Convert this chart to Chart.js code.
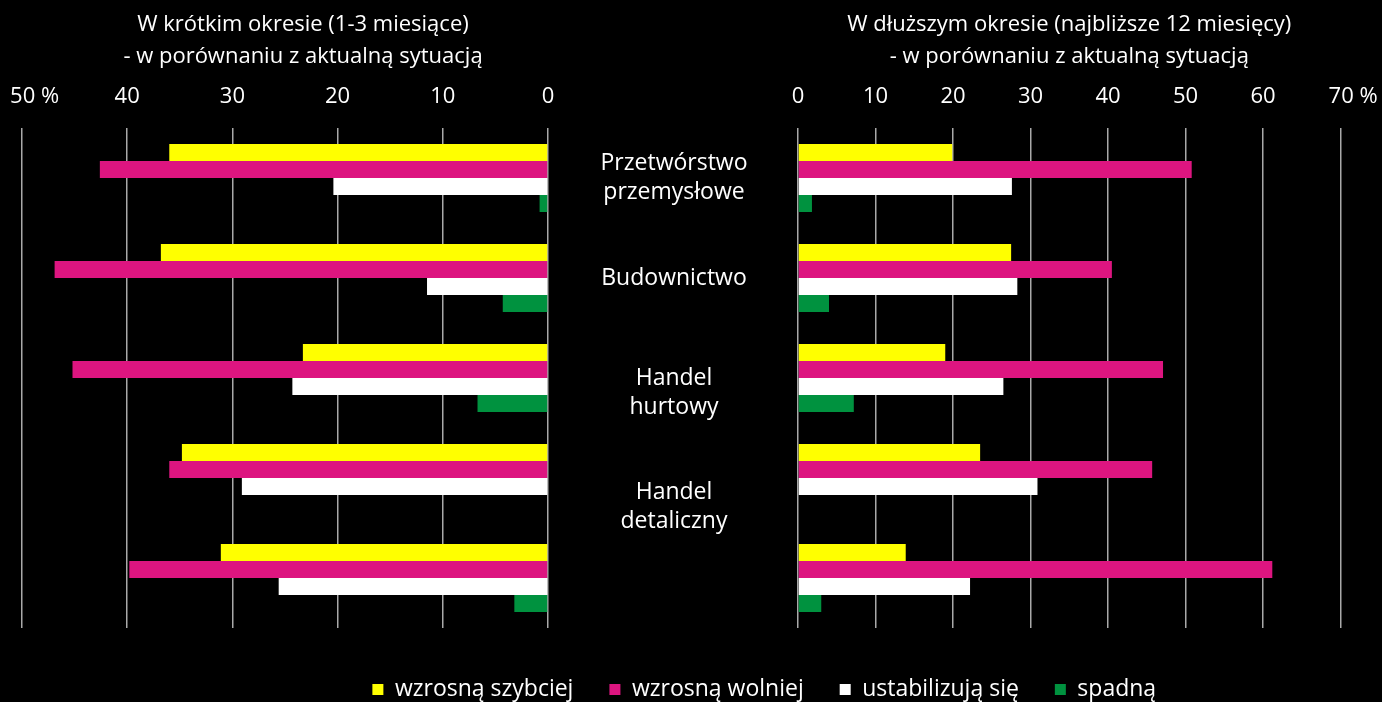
<!DOCTYPE html>
<html>
<head>
<meta charset="utf-8">
<script src="https://cdn.jsdelivr.net/npm/chart.js@4/dist/chart.umd.min.js"></script>
<style>
  html, body { margin: 0; padding: 0; background: #000; overflow: hidden; width: 1382px; height: 702px; }
  .pole { position: absolute; top: 0; }
</style>
</head>
<body>
<div class="pole" style="left:0;width:584px;height:702px"><canvas id="krotki" width="584" height="702"></canvas></div>
<div class="pole" style="left:188px;width:1194px;height:711px"><canvas id="dluzszy" width="1194" height="711"></canvas></div>
<script>
// Branże (ostatnia grupa bez podpisu, jak w oryginale)
const branze = [["Przetwórstwo", "przemysłowe"], "Budownictwo", ["Handel", "hurtowy"], ["Handel", "detaliczny"], ""];
const serie = ["wzrosną szybciej", "wzrosną wolniej", "ustabilizują się", "spadną"];
const kolory = ["#ffff00", "#dd1580", "#ffffff", "#00923f"];

// W krótkim okresie (1-3 miesiące), %
const krotkiSzybciej = [36.0, 36.8, 23.3, 34.8, 31.1];
const krotkiWolniej = [42.6, 46.9, 45.2, 36.0, 39.8];
const krotkiStabilnie = [20.4, 11.5, 24.3, 29.1, 25.6];
const krotkiSpadek = [0.8, 4.3, 6.7, null, 3.2];

// W dłuższym okresie (najbliższe 12 miesięcy), %
const dlugiSzybciej = [19.9, 27.5, 19.0, 23.5, 13.9];
const dlugiWolniej = [50.8, 40.5, 47.1, 45.7, 61.2];
const dlugiStabilnie = [27.6, 28.3, 26.5, 30.9, 22.2];
const dlugiSpadek = [1.8, 4.0, 7.2, null, 3.0];

const krotkiMax = 50;
const dlugiMax = 70;

const FONT = "'Open Sans', 'Noto Sans', sans-serif";
Chart.defaults.font.family = FONT;
Chart.defaults.font.size = 22;
Chart.defaults.color = "#ffffff";

// w oryginale podpisy branż są nieco niżej niż środek grupy - puste wiersze na górze
const pusteWiersze = [0, 0, 1, 2, 0];

function zestawy(dane) {
  return dane.map((d, i) => ({
    label: serie[i],
    data: d,
    backgroundColor: kolory[i],
    borderWidth: 0,
    categoryPercentage: 0.68,
    barPercentage: 1.0
  }));
}

function osX(max, odwrocona) {
  return {
    type: "linear",
    position: "top",
    min: 0,
    max: max,
    reverse: odwrocona,
    grid: { color: "#a9a9a9", lineWidth: 1.5, drawTicks: false },
    border: { display: false },
    ticks: {
      stepSize: 10,
      padding: 17.8,
      maxRotation: 0,
      minRotation: 0,
      autoSkip: false,
      color: "#fff",
      font: { size: 22, lineHeight: 1.2 },
      callback: v => v === max ? "\u2007\u2007" + v + " %" : v
    },
    afterFit: s => {
      s.paddingLeft = 0;
      s.paddingRight = 0;
      s.height = 26.4 + 17.8;
    }
  };
}

function tytul(linie, pelny) {
  return {
    display: true,
    text: linie,
    color: "#fff",
    fullSize: pelny,
    font: { size: 22, weight: "normal", lineHeight: 1.4545 },
    padding: { top: 9, bottom: 10.8 }
  };
}

// Lewy wykres - oś odwrócona
new Chart(document.getElementById("krotki"), {
  type: "bar",
  data: { labels: branze, datasets: zestawy([krotkiSzybciej, krotkiWolniej, krotkiStabilnie, krotkiSpadek]) },
  options: {
    indexAxis: "y",
    responsive: false,
    animation: false,
    layout: { padding: { left: 22, bottom: 74 } },
    plugins: {
      legend: { display: false },
      tooltip: { enabled: false },
      title: tytul(["W krótkim okresie (1-3 miesiące)", "- w porównaniu z aktualną sytuacją"], true)
    },
    scales: {
      x: osX(krotkiMax, true),
      y: {
        position: "right",
        grid: { display: false, drawTicks: false },
        border: { display: false },
        ticks: { display: false },
        afterFit: s => { s.width = 36; }
      }
    }
  }
});

// szerokość najdłuższego podpisu - żeby wyśrodkować branże między wykresami
const miara = document.createElement("canvas").getContext("2d");
miara.font = "23px " + FONT;
const najszerszy = Math.max(...branze.flat().map(t => miara.measureText(t).width));

// Prawy wykres z podpisami branż i legendą
new Chart(document.getElementById("dluzszy"), {
  type: "bar",
  data: { labels: branze, datasets: zestawy([dlugiSzybciej, dlugiWolniej, dlugiStabilnie, dlugiSpadek]) },
  options: {
    indexAxis: "y",
    responsive: false,
    animation: false,
    layout: { padding: { right: 41.5 } },
    plugins: {
      tooltip: { enabled: false },
      title: tytul(["W dłuższym okresie (najbliższe 12 miesięcy)", "- w porównaniu z aktualną sytuacją"], false),
      legend: {
        display: true,
        position: "bottom",
        labels: { boxWidth: 11, boxHeight: 11, padding: 36, color: "#fff", font: { size: 23 } },
        title: { display: true, text: "", padding: 0, font: { size: 14, lineHeight: 1 } }
      }
    },
    scales: {
      x: osX(dlugiMax, false),
      y: {
        position: "left",
        grid: { display: false, drawTicks: false },
        border: { display: false },
        ticks: {
          autoSkip: false,
          crossAlign: "center",
          padding: 124 - najszerszy / 2,
          color: "#fff",
          font: { size: 23, lineHeight: 1.26 },
          callback: function (v, i) {
            const l = this.getLabelForValue(v);
            const wiersze = Array.isArray(l) ? l : [l];
            return pusteWiersze[i] ? Array(pusteWiersze[i]).fill("").concat(wiersze) : l;
          }
        },
        afterFit: s => {
          s.width = 610;
          s.paddingTop = 0;
          s.paddingBottom = 0;
        }
      }
    }
  }
});
</script>
</body>
</html>
